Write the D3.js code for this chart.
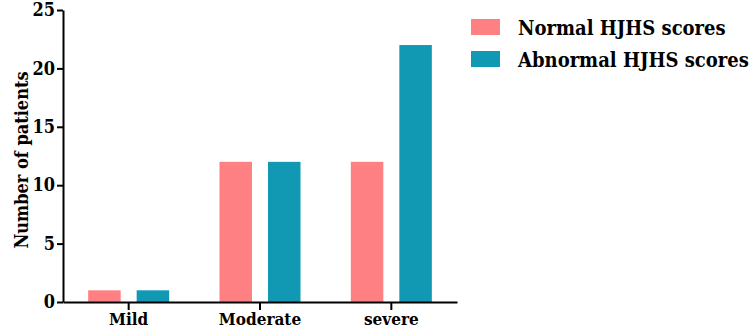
<!DOCTYPE html>
<html>
<head>
<meta charset="utf-8">
<script src="https://cdn.jsdelivr.net/npm/d3@7"></script>
<style>
  body { margin: 0; background: #fff; }
  .axis path, .axis line { stroke: #000; stroke-width: 2px; }
</style>
</head>
<body>
<svg width="752" height="333"></svg>
<script>
var categories = ["Mild", "Moderate", "severe"];
var seriesNames = ["Normal HJHS scores", "Abnormal HJHS scores"];
var normalValues = [1, 12, 12];
var abnormalValues = [1, 12, 22];
var yTicks = [0, 5, 10, 15, 20, 25];
var colors = ["#ff8082", "#1199b4"];
var serif = "DejaVu Serif Condensed, DejaVu Serif, serif";

var svg = d3.select("svg"),
    margin = {top: 10, right: 295, bottom: 31, left: 63},
    width = +svg.attr("width") - margin.left - margin.right,
    height = +svg.attr("height") - margin.top - margin.bottom,
    g = svg.append("g").attr("transform", "translate(" + margin.left + "," + margin.top + ")");

var data = categories.map(function(c, i) {
  return {cat: c, values: [normalValues[i], abnormalValues[i]]};
});

var x0 = d3.scaleBand().domain(categories).range([0, width]).padding(0),
    x1 = d3.scaleBand().domain(seriesNames).range([-40.5, 40.5]).paddingInner(0.33),
    y = d3.scaleLinear().domain([0, 25]).range([height, 0]);

var group = g.selectAll(".grp")
  .data(data)
  .enter().append("g")
  .attr("class", "grp")
  .attr("transform", function(d) { return "translate(" + (x0(d.cat) + x0.bandwidth() / 2) + ",0)"; });

group.selectAll("rect")
  .data(function(d) { return d.values.map(function(v, i) { return {s: seriesNames[i], v: v, i: i}; }); })
  .enter().append("rect")
  .attr("x", function(d) { return x1(d.s); })
  .attr("width", x1.bandwidth())
  .attr("y", function(d) { return y(d.v); })
  .attr("height", function(d) { return height - y(d.v); })
  .attr("fill", function(d) { return colors[d.i]; });

function styleText(sel, size) {
  sel.attr("font-family", serif)
    .attr("font-stretch", "condensed")
    .attr("font-weight", "bold")
    .attr("font-size", size);
}

var xAxis = g.append("g")
  .attr("class", "axis")
  .attr("transform", "translate(0," + height + ")")
  .call(d3.axisBottom(x0).tickSize(8).tickSizeOuter(0).tickPadding(3));
styleText(xAxis, 17);
xAxis.selectAll("text").attr("fill", "#000");

var yAxis = g.append("g")
  .attr("class", "axis")
  .call(d3.axisLeft(y).tickValues(yTicks).tickSize(6).tickSizeOuter(0).tickPadding(2));
styleText(yAxis, 18);
yAxis.selectAll("text").attr("fill", "#000");

// y label sits a bit below the plot centre in the original
g.append("text")
  .attr("transform", "rotate(-90)")
  .attr("x", -height / 2 - 4)
  .attr("y", -margin.left + 28)
  .attr("text-anchor", "middle")
  .call(styleText, 18)
  .attr("fill", "#000")
  .text("Number of patients");

var legend = svg.append("g").attr("transform", "translate(471,19)");
var item = legend.selectAll("g")
  .data(seriesNames)
  .enter().append("g")
  .attr("transform", function(d, i) { return "translate(0," + (i * 32) + ")"; });

item.append("rect")
  .attr("width", 29)
  .attr("height", 16)
  .attr("fill", function(d, i) { return colors[i]; });

item.append("text")
  .attr("x", 47)
  .attr("y", 9)
  .attr("dy", "0.35em")
  .call(styleText, 20)
  .attr("fill", "#000")
  .text(function(d) { return d; });
</script>
</body>
</html>
